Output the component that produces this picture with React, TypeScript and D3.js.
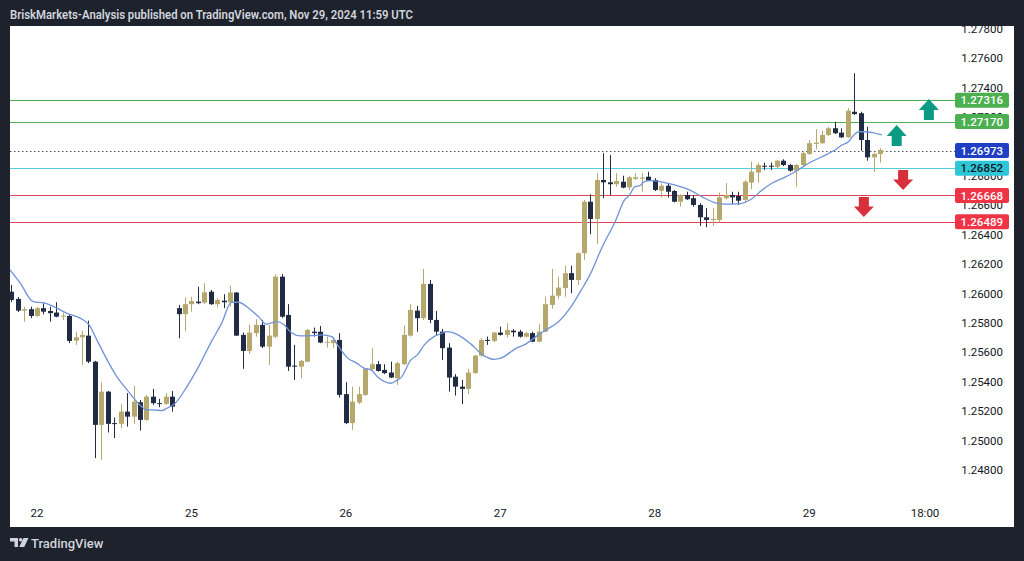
import React from 'react';
import * as d3 from 'd3';

// ---------- DATA ----------
const FIRST_BAR = -4; // hourly bars, bar 0 = Nov 22 00:00 UTC
const openP = [
  1.26013, 1.25964, 1.25884, 1.25894,
  1.25848, 1.25901, 1.25882, 1.25871, 1.25843, 1.25848, 1.25680, 1.25703, 1.25714, 1.25537,
  1.25107, 1.25333, 1.25119, 1.25114, 1.25197, 1.25163, 1.25261, 1.25141, 1.25299, 1.25255,
  1.25250, 1.25299, 1.25901, 1.25860, 1.25928, 1.25945, 1.25939, 1.26013, 1.25928, 1.25952,
  1.25941, 1.26007, 1.25719, 1.25610, 1.25731, 1.25787, 1.25639, 1.25707, 1.26115, 1.25855,
  1.25510, 1.25503, 1.25537, 1.25741, 1.25741, 1.25667, 1.25663, 1.25685, 1.25316, 1.25119,
  1.25259, 1.25311, 1.25486, 1.25520, 1.25481, 1.25463, 1.25425, 1.25520, 1.25714, 1.25884,
  1.25833, 1.26066, 1.25821, 1.25741, 1.25633, 1.25435, 1.25367, 1.25352, 1.25459, 1.25578,
  1.25685, 1.25678, 1.25735, 1.25719, 1.25748, 1.25741, 1.25707, 1.25731, 1.25673, 1.25741,
  1.25923, 1.25986, 1.26037, 1.26139, 1.26093, 1.26275, 1.26625, 1.26508, 1.26773, 1.26757,
  1.26744, 1.26761, 1.26723, 1.26780, 1.26782, 1.26795, 1.26773, 1.26700, 1.26734, 1.26698,
  1.26625, 1.26671, 1.26649, 1.26603, 1.26519, 1.26501, 1.26501, 1.26649, 1.26671, 1.26664,
  1.26637, 1.26755, 1.26823, 1.26870, 1.26870, 1.26863, 1.26904, 1.26875, 1.26836, 1.26875,
  1.26950, 1.27018, 1.27023, 1.27079, 1.27125, 1.27095, 1.27063, 1.27237, 1.27227, 1.27045,
  1.26927, 1.26950,
];
const highP = [
  1.26059, 1.25977, 1.25911, 1.25911,
  1.25909, 1.25935, 1.25911, 1.25941, 1.25871, 1.25855, 1.25741, 1.25748, 1.25816, 1.25542,
  1.25395, 1.25338, 1.25157, 1.25248, 1.25323, 1.25372, 1.25277, 1.25311, 1.25352, 1.25284,
  1.25323, 1.25338, 1.25923, 1.25973, 1.25979, 1.26047, 1.26071, 1.26025, 1.25969, 1.25996,
  1.26054, 1.26011, 1.25735, 1.25787, 1.25826, 1.25821, 1.25787, 1.26132, 1.26132, 1.25928,
  1.25651, 1.25549, 1.25760, 1.25769, 1.25780, 1.25707, 1.25707, 1.25731, 1.25397, 1.25367,
  1.25367, 1.25495, 1.25629, 1.25542, 1.25520, 1.25537, 1.25537, 1.25782, 1.25928, 1.25916,
  1.26168, 1.26093, 1.25882, 1.25760, 1.25663, 1.25452, 1.25413, 1.25488, 1.25583, 1.25697,
  1.25707, 1.25741, 1.25775, 1.25799, 1.25758, 1.25753, 1.25741, 1.25741, 1.25792, 1.25979,
  1.26168, 1.26115, 1.26190, 1.26190, 1.26281, 1.26637, 1.26676, 1.26819, 1.26955, 1.26943,
  1.26819, 1.26802, 1.26802, 1.26819, 1.26819, 1.26829, 1.26785, 1.26751, 1.26751, 1.26705,
  1.26676, 1.26693, 1.26671, 1.26615, 1.26581, 1.26581, 1.26687, 1.26751, 1.26693, 1.26693,
  1.26773, 1.26897, 1.26891, 1.26891, 1.26891, 1.26909, 1.26914, 1.26882, 1.26882, 1.26965,
  1.27045, 1.27118, 1.27108, 1.27135, 1.27169, 1.27125, 1.27261, 1.27499, 1.27237, 1.27135,
  1.26959, 1.26989,
];
const lowP = [
  1.25943, 1.25875, 1.25809, 1.25833,
  1.25841, 1.25860, 1.25809, 1.25839, 1.25821, 1.25663, 1.25651, 1.25515, 1.25527, 1.24881,
  1.24869, 1.25055, 1.25017, 1.25085, 1.25095, 1.25114, 1.25068, 1.25134, 1.25243, 1.25227,
  1.25243, 1.25197, 1.25697, 1.25746, 1.25877, 1.25928, 1.25928, 1.25923, 1.25905, 1.25901,
  1.25911, 1.25712, 1.25488, 1.25588, 1.25707, 1.25629, 1.25515, 1.25697, 1.25835, 1.25474,
  1.25413, 1.25425, 1.25533, 1.25707, 1.25663, 1.25633, 1.25629, 1.25293, 1.25112, 1.25073,
  1.25248, 1.25304, 1.25481, 1.25469, 1.25452, 1.25425, 1.25379, 1.25515, 1.25707, 1.25741,
  1.25821, 1.25799, 1.25719, 1.25549, 1.25333, 1.25306, 1.25248, 1.25316, 1.25454, 1.25571,
  1.25651, 1.25669, 1.25714, 1.25701, 1.25707, 1.25701, 1.25701, 1.25669, 1.25669, 1.25737,
  1.25896, 1.25964, 1.25979, 1.26003, 1.26059, 1.26229, 1.26404, 1.26336, 1.26649, 1.26671,
  1.26727, 1.26717, 1.26705, 1.26773, 1.26693, 1.26766, 1.26698, 1.26653, 1.26653, 1.26621,
  1.26591, 1.26637, 1.26591, 1.26460, 1.26451, 1.26460, 1.26483, 1.26642, 1.26610, 1.26603,
  1.26625, 1.26710, 1.26755, 1.26841, 1.26841, 1.26853, 1.26868, 1.26829, 1.26727, 1.26863,
  1.26943, 1.26982, 1.27018, 1.27072, 1.27086, 1.27059, 1.27059, 1.27215, 1.26972, 1.26904,
  1.26829, 1.26891,
];
const closeP = [
  1.25957, 1.25884, 1.25894, 1.25848,
  1.25901, 1.25877, 1.25867, 1.25843, 1.25850, 1.25678, 1.25703, 1.25719, 1.25537, 1.25107,
  1.25333, 1.25114, 1.25114, 1.25197, 1.25163, 1.25265, 1.25141, 1.25299, 1.25255, 1.25250,
  1.25299, 1.25231, 1.25860, 1.25928, 1.25950, 1.25935, 1.26009, 1.25928, 1.25957, 1.25941,
  1.26007, 1.25714, 1.25610, 1.25735, 1.25787, 1.25639, 1.25714, 1.26115, 1.25843, 1.25503,
  1.25503, 1.25542, 1.25753, 1.25731, 1.25667, 1.25673, 1.25685, 1.25311, 1.25119, 1.25265,
  1.25316, 1.25488, 1.25520, 1.25474, 1.25459, 1.25429, 1.25527, 1.25719, 1.25889, 1.25833,
  1.26066, 1.25821, 1.25741, 1.25629, 1.25429, 1.25367, 1.25352, 1.25463, 1.25578, 1.25685,
  1.25678, 1.25735, 1.25719, 1.25753, 1.25737, 1.25707, 1.25731, 1.25673, 1.25741, 1.25928,
  1.25986, 1.26041, 1.26139, 1.26093, 1.26275, 1.26625, 1.26508, 1.26773, 1.26757, 1.26744,
  1.26766, 1.26721, 1.26791, 1.26791, 1.26790, 1.26768, 1.26705, 1.26734, 1.26693, 1.26625,
  1.26671, 1.26642, 1.26603, 1.26519, 1.26501, 1.26508, 1.26655, 1.26671, 1.26655, 1.26632,
  1.26761, 1.26829, 1.26875, 1.26866, 1.26866, 1.26904, 1.26875, 1.26836, 1.26875, 1.26955,
  1.27023, 1.27027, 1.27079, 1.27125, 1.27091, 1.27063, 1.27244, 1.27222, 1.27045, 1.26927,
  1.26950, 1.26977,
];

// moving average (bar position, value)
const maBar = [
  -4.2, -2.6, -0.6, 1.2, 3.1, 4.6, 6.7, 8.1, 9.3, 10.9, 12.4, 14, 15.5, 17.1, 18.1, 19.4, 20.2,
  21.5, 23.3, 25.2, 27.1, 28.7, 30.2, 31.3, 32.9, 34.5, 35.6, 36.3, 37.3, 38.3, 39.5, 41, 42.7,
  44.3, 45.8, 46.8, 48.3, 49.7, 50.8, 51.9, 52.9, 55, 56, 56.5, 58.1, 59.1, 60.2, 61.7, 62.3, 63.8,
  65.4, 67.4, 69.5, 71.1, 72.6, 73.5, 74.5, 75.7, 78.3, 79.1, 81, 83, 84.6, 86, 87.8, 89.9, 91.3,
  92.1, 92.9, 93.7, 94.4, 95.3, 97.2, 99.1, 101.4, 103.3, 105.3, 106.9, 109, 111.1, 112.5, 114.2,
  116.2, 118.3, 119.9, 122, 124, 125.1, 126.1, 127.1, 127.7, 128.7, 129.8, 131.3,
];
const maValue = [
  1.26161, 1.26071, 1.25945, 1.25935, 1.25901, 1.25867, 1.25833, 1.25787, 1.25685, 1.25549,
  1.25435, 1.25345, 1.25265, 1.25209, 1.25209, 1.25204, 1.25220, 1.25255, 1.25367, 1.25510,
  1.25673, 1.25799, 1.25940, 1.25941, 1.25901, 1.25840, 1.25792, 1.25799, 1.25809, 1.25792,
  1.25736, 1.25712, 1.25714, 1.25719, 1.25707, 1.25644, 1.25561, 1.25527, 1.25493, 1.25481,
  1.25435, 1.25390, 1.25413, 1.25425, 1.25549, 1.25583, 1.25651, 1.25707, 1.25719, 1.25741,
  1.25719, 1.25658, 1.25576, 1.25552, 1.25571, 1.25600, 1.25629, 1.25651, 1.25731, 1.25753,
  1.25807, 1.25911, 1.26025, 1.26134, 1.26314, 1.26494, 1.26637, 1.26671, 1.26728, 1.26734,
  1.26762, 1.26769, 1.26759, 1.26739, 1.26705, 1.26660, 1.26619, 1.26608, 1.26610, 1.26645,
  1.26698, 1.26751, 1.26791, 1.26841, 1.26887, 1.26931, 1.26977, 1.27011, 1.27033, 1.27086,
  1.27101, 1.27101, 1.27095, 1.27079,
];

const timeTickBars = [0, 24, 48, 72, 96, 120, 138];
const timeTickLabels = ['22', '25', '26', '27', '28', '29', '18:00'];
const priceTickLabels = [
  '1.24800', '1.25000', '1.25200', '1.25400', '1.25600', '1.25800', '1.26000', '1.26200',
  '1.26400', '1.26600', '1.26800', '1.27000', '1.27200', '1.27400', '1.27600', '1.27800',
];
const levelPrices = [1.27316, 1.2717, 1.26973, 1.26852, 1.26668, 1.26489];
const levelKinds = ['resistance', 'resistance', 'last', 'pivot', 'support', 'support'];

const arrowBars = [138.6, 133.6, 134.6, 128.5];
const arrowTopP = [1.27324, 1.27147, 1.26841, 1.26657];
const arrowBottomP = [1.27181, 1.27004, 1.26705, 1.26521];
const arrowDir = ['up', 'up', 'down', 'down'];

const TITLE = 'BriskMarkets-Analysis published on TradingView.com, Nov 29, 2024 11:59 UTC';

// ---------- STYLE ----------
const BG = '#1e222d';
const BULL = '#b6a86c';
const BEAR = '#222b44';
const FONT = 'Roboto, "Liberation Sans", sans-serif';
const levelStyle: Record<string, { line: string; box: string; text: string; dash?: string }> = {
  resistance: { line: '#4caf50', box: '#4caf50', text: '#ffffff' },
  last: { line: '#4a4f5c', box: '#1f40c4', text: '#ffffff', dash: '1.5,2.5' },
  pivot: { line: '#56cfdc', box: '#2fc6d8', text: '#131722' },
  support: { line: '#e2445a', box: '#ef3446', text: '#ffffff' },
};

export default function App() {
  const W = 1024;
  const H = 561;
  const panel = { x0: 10, x1: 1014, y0: 26, y1: 527 };
  const plotRight = 955;

  const x = d3.scaleLinear().domain([0, 138]).range([37, 925]);
  const y = d3.scaleLinear().domain([1.248, 1.278]).range([470, 29]);

  const bodyW = 5;
  const candles = openP.map((o, k) => {
    const bar = FIRST_BAR + k;
    const c = closeP[k];
    const cx = Math.round(x(bar)) + 0.5;
    const up = c >= o;
    const yTop = y(Math.max(o, c));
    const yBot = y(Math.min(o, c));
    const bh = Math.max(1, yBot - yTop);
    const col = up ? BULL : BEAR;
    return (
      <g key={k}>
        <line x1={cx} x2={cx} y1={y(highP[k])} y2={y(lowP[k])} stroke={col} strokeWidth={1} />
        <rect x={cx - bodyW / 2} y={yTop} width={bodyW} height={bh} fill={col} />
      </g>
    );
  });

  const maPts: [number, number][] = maBar.map((b, i) => [x(b), y(maValue[i])]);
  const maPath = d3.line().curve(d3.curveMonotoneX)(maPts) || '';

  const arrowPath = (i: number) => {
    const cx = x(arrowBars[i]);
    const yt = y(arrowTopP[i]);
    const yb = y(arrowBottomP[i]);
    const hw = 10;
    const sw = 5;
    const hh = (yb - yt) * 0.52;
    if (arrowDir[i] === 'up') {
      return `M${cx},${yt} L${cx + hw},${yt + hh} L${cx + sw},${yt + hh} L${cx + sw},${yb} L${cx - sw},${yb} L${cx - sw},${yt + hh} L${cx - hw},${yt + hh} Z`;
    }
    return `M${cx},${yb} L${cx + hw},${yb - hh} L${cx + sw},${yb - hh} L${cx + sw},${yt} L${cx - sw},${yt} L${cx - sw},${yb - hh} L${cx - hw},${yb - hh} Z`;
  };

  return (
    <svg
      width={W}
      height={H}
      style={{ position: 'fixed', left: 0, top: 0, display: 'block' }}
      fontFamily={FONT}
    >
      <defs>
        <clipPath id="panelClip">
          <rect x={panel.x0} y={panel.y0} width={panel.x1 - panel.x0} height={panel.y1 - panel.y0} />
        </clipPath>
        <clipPath id="plotClip">
          <rect x={panel.x0} y={panel.y0} width={plotRight - panel.x0} height={panel.y1 - panel.y0} />
        </clipPath>
      </defs>
      <rect x={0} y={0} width={W} height={H} fill={BG} />
      <text
        x={10}
        y={18.5}
        fill="#d1d4dc"
        fontSize={12}
        fontWeight={600}
        textLength={403}
        lengthAdjust="spacingAndGlyphs"
      >
        {TITLE}
      </text>
      <rect x={panel.x0} y={panel.y0} width={panel.x1 - panel.x0} height={panel.y1 - panel.y0} fill="#ffffff" />

      {/* price axis labels */}
      <g clipPath="url(#panelClip)">
        {priceTickLabels.map((t) => (
          <text key={t} x={1003} y={y(+t)} dy="0.35em" textAnchor="end" fontSize={11.5} fill="#131722">
            {t}
          </text>
        ))}
      </g>

      {/* time axis labels */}
      {timeTickBars.map((b, i) => (
        <text key={i} x={x(b)} y={517} textAnchor="middle" fontSize={11.5} fill="#131722">
          {timeTickLabels[i]}
        </text>
      ))}

      <g clipPath="url(#plotClip)">
        {/* horizontal levels */}
        {levelPrices.map((p, i) => {
          const st = levelStyle[levelKinds[i]];
          const yy = Math.round(y(p)) + 0.5;
          return (
            <line
              key={i}
              x1={panel.x0}
              x2={plotRight}
              y1={yy}
              y2={yy}
              stroke={st.line}
              strokeWidth={1}
              strokeDasharray={st.dash}
            />
          );
        })}
        {candles}
        <path d={maPath} fill="none" stroke="#6f93d6" strokeWidth={1.3} />
        {arrowBars.map((_, i) => (
          <path key={i} d={arrowPath(i)} fill={arrowDir[i] === 'up' ? '#0b9a82' : '#d8303b'} />
        ))}
      </g>

      {/* level label boxes */}
      {levelPrices.map((p, i) => {
        const st = levelStyle[levelKinds[i]];
        const yy = y(p);
        return (
          <g key={i}>
            <rect x={955} y={yy - 7.5} width={54} height={15} rx={2} fill={st.box} />
            <text x={1003} y={yy} dy="0.36em" textAnchor="end" fontSize={11.5} fontWeight={500} fill={st.text}>
              {p.toFixed(5)}
            </text>
          </g>
        );
      })}

      {/* TradingView footer logo */}
      <g fill="#d1d4dc">
        <path d="M10,538 H18 V547 H14.5 V541.5 H10 Z" />
        <circle cx={20.6} cy={539.8} r={1.8} />
        <path d="M23.5,538 H28.5 L24.2,547 H19.2 Z" />
      </g>
      <text x={31} y={547.5} fill="#d1d4dc" fontSize={13} fontWeight={500}>
        TradingView
      </text>
    </svg>
  );
}
